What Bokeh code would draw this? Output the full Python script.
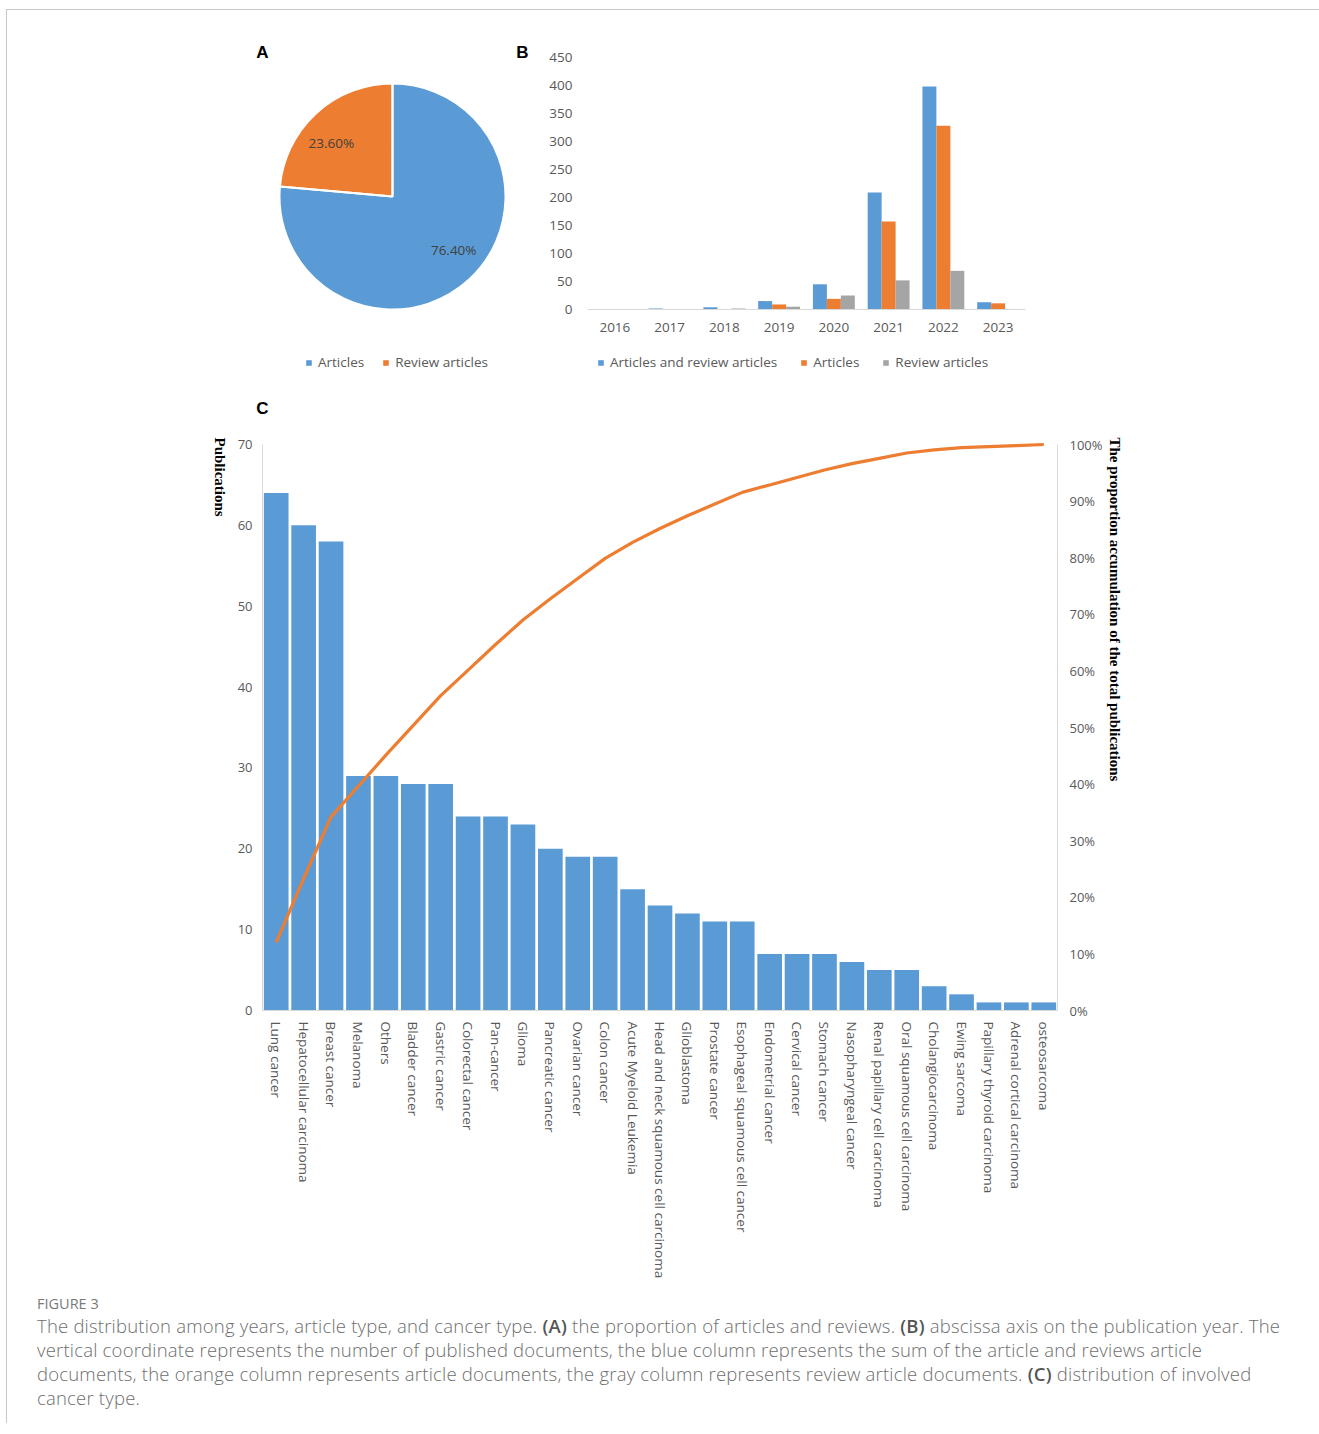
import math
from bokeh.plotting import figure
from bokeh.models import (Range1d, LinearAxis, Label, Legend, LegendItem,
                          FixedTicker, NumeralTickFormatter, Div, ColumnDataSource)
from bokeh.transform import dodge
from bokeh.layouts import column, row
from bokeh.embed import file_html
from bokeh.resources import INLINE

# ---------------- data ----------------
pie_labels = ["Articles", "Review articles"]
pie_shares = [76.40, 23.60]

years = [2016, 2017, 2018, 2019, 2020, 2021, 2022, 2023]
both_counts = [1, 2, 4, 15, 45, 209, 398, 13]
article_counts = [0, 0, 1, 9, 19, 157, 328, 11]
review_counts = [1, 1, 2, 5, 25, 52, 69, 1]
b_ticks = [0, 50, 100, 150, 200, 250, 300, 350, 400, 450]

cancers = ["Lung cancer", "Hepatocellular carcinoma", "Breast cancer", "Melanoma", "Others",
           "Bladder cancer", "Gastric cancer", "Colorectal cancer", "Pan-cancer", "Glioma",
           "Pancreatic cancer", "Ovarian cancer", "Colon cancer", "Acute Myeloid Leukemia",
           "Head and neck squamous cell carcinoma", "Glioblastoma", "Prostate cancer",
           "Esophageal squamous cell cancer", "Endometrial cancer", "Cervical cancer",
           "Stomach cancer", "Nasopharyngeal cancer", "Renal papillary cell carcinoma",
           "Oral squamous cell carcinoma", "Cholangiocarcinoma", "Ewing sarcoma",
           "Papillary thyroid carcinoma", "Adrenal cortical carcinoma", "osteosarcoma"]
cancer_counts = [64, 60, 58, 29, 29, 28, 28, 24, 24, 23, 20, 19, 19, 15, 13, 12, 11, 11,
                 7, 7, 7, 6, 5, 5, 3, 2, 1, 1, 1]
c_left_ticks = [0, 10, 20, 30, 40, 50, 60, 70]
c_right_ticks = [0, 0.1, 0.2, 0.3, 0.4, 0.5, 0.6, 0.7, 0.8, 0.9, 1.0]

BLUE = "#5B9BD5"
ORANGE = "#ED7D31"
GRAY = "#A5A5A5"
TXT = "#595959"
AXL = "#D9D9D9"
FONT = "Open Sans"


def style_axis(ax, size):
    ax.major_tick_line_color = None
    ax.minor_tick_line_color = None
    ax.major_tick_out = 0
    ax.major_tick_in = 0
    ax.minor_tick_out = 0
    ax.minor_tick_in = 0
    ax.major_label_text_font = FONT
    ax.major_label_text_font_size = size
    ax.major_label_text_color = TXT


def legend(items, loc, spacing):
    return Legend(items=items, orientation="horizontal", location=loc,
                  glyph_width=7, glyph_height=7, label_standoff=6, spacing=spacing,
                  padding=0, margin=0, border_line_color=None, background_fill_alpha=0,
                  label_text_font=FONT, label_text_font_size="13.5px", label_text_color=TXT,
                  label_height=16)


def panel_label(x, y, t):
    return Label(x=x, y=y, text=t, text_align="center", text_baseline="middle",
                 text_font="Liberation Sans", text_font_style="bold",
                 text_font_size="17px", text_color="black")


# page origin of the content (inside the thin frame line)
OX, OY = 7, 10
ROW_H = 393 - OY

# ---------------- panel A (pie) ----------------
WA = 508 - OX
pA = figure(width=WA, height=ROW_H, x_range=Range1d(0, WA), y_range=Range1d(0, ROW_H),
            output_backend="svg", toolbar_location=None,
            x_axis_location=None, y_axis_location=None,
            min_border_left=0, min_border_right=0, min_border_top=0, min_border_bottom=0)
pA.outline_line_color = None
pA.grid.visible = False

cx, cy, R = 392 - OX, 393 - 196, 113
cum = 0.0
starts, ends, lx, ly, txts = [], [], [], [], []
for s in pie_shares:
    a0 = math.pi / 2 - cum / 100 * 2 * math.pi
    a1 = math.pi / 2 - (cum + s) / 100 * 2 * math.pi
    starts.append(a0)
    ends.append(a1)
    mid = (a0 + a1) / 2 + 0.11
    lx.append(cx + 0.72 * R * math.cos(mid))
    ly.append(cy + 0.72 * R * math.sin(mid))
    txts.append("%.2f%%" % s)
    cum += s
srcA = ColumnDataSource(dict(start=starts, end=ends, color=[BLUE, ORANGE],
                             lx=lx, ly=ly, txt=txts))
wfill = pA.wedge(x=cx, y=cy, radius=R, start_angle="start", end_angle="end", direction="clock",
                 fill_color="color", line_color=None, source=srcA)
pA.wedge(x=cx, y=cy, radius=R, start_angle="start", end_angle="end", direction="clock",
         fill_color=None, line_color="white", line_width=2, source=srcA)
pA.text(x="lx", y="ly", text="txt", source=srcA, text_align="center", text_baseline="middle",
        text_font_size="13.5px", text_color="#404040", text_font={"value": FONT})
pA.add_layout(legend([LegendItem(label=pie_labels[0], renderers=[wfill], index=0),
                      LegendItem(label=pie_labels[1], renderers=[wfill], index=1)],
                     (305 - OX, 393 - 371), 18))
pA.add_layout(panel_label(262 - OX, 393 - 52, "A"))

# ---------------- panel B (grouped bars) ----------------
WB = 1311 - 508
pxB = 438 / 8.0          # px per year
pyB = 252 / 450.0        # px per publication
x0B, y0B = 587, 309      # page position of (2015.5, 0)
pB = figure(width=WB, height=ROW_H,
            x_range=Range1d(2015.5 - (x0B - 508) / pxB, 2015.5 + (1311 - x0B) / pxB),
            y_range=Range1d(-(393 - y0B) / pyB, (y0B - OY) / pyB),
            output_backend="svg", toolbar_location=None,
            min_border_left=0, min_border_right=0, min_border_top=0, min_border_bottom=0)
pB.outline_line_color = None
pB.grid.visible = False
srcB = ColumnDataSource(dict(year=years, both=both_counts, art=article_counts, rev=review_counts))
w = 0.255
r1 = pB.vbar(x=dodge("year", -w), top="both", width=w, source=srcB,
             fill_color=BLUE, line_color=None)
r2 = pB.vbar(x=dodge("year", 0), top="art", width=w, source=srcB,
             fill_color=ORANGE, line_color=None)
r3 = pB.vbar(x=dodge("year", w), top="rev", width=w, source=srcB,
             fill_color=GRAY, line_color=None)
xa = pB.xaxis[0]
ya = pB.yaxis[0]
style_axis(xa, "13.5px")
style_axis(ya, "13.5px")
xa.ticker = FixedTicker(ticks=years)
xa.fixed_location = 0
xa.bounds = (2015.5, 2023.5)
xa.axis_line_color = AXL
xa.major_label_standoff = 13
ya.ticker = FixedTicker(ticks=b_ticks)
ya.fixed_location = 2015.5
ya.axis_line_color = None
ya.major_label_standoff = 15
pB.add_layout(legend([LegendItem(label="Articles and review articles", renderers=[r1]),
                      LegendItem(label="Articles", renderers=[r2]),
                      LegendItem(label="Review articles", renderers=[r3])],
                     (597 - 508, 393 - 371), 23))
pB.add_layout(panel_label(2015.5 + (522 - x0B) / pxB, (y0B - 52) / pyB, "B"))

# ---------------- panel C (pareto) ----------------
WC, HC = 1311 - OX, 1285 - 393
pxC = 795 / 29.0
pyC = 566 / 70.0
x0C, y0C = 262, 1010     # page position of (-0.5, 0)
idx = list(range(len(cancers)))
total = float(sum(cancer_counts))
run = 0
cum_share = []
for v in cancer_counts:
    run += v
    cum_share.append(run / total)
srcC = ColumnDataSource(dict(i=idx, n=cancer_counts, cum=cum_share))
yb, yt = -(1285 - y0C) / pyC, (y0C - 393) / pyC
pC = figure(width=WC, height=HC,
            x_range=Range1d(-0.5 - (x0C - OX) / pxC, -0.5 + (1311 - x0C) / pxC),
            y_range=Range1d(yb, yt),
            output_backend="svg", toolbar_location=None,
            min_border_left=0, min_border_right=0, min_border_top=0, min_border_bottom=0)
pC.outline_line_color = None
pC.grid.visible = False
pC.extra_y_ranges = {"pct": Range1d(yb / 70.0, yt / 70.0)}
pC.vbar(x="i", top="n", width=0.9, source=srcC, fill_color=BLUE, line_color=None)
pC.line(x="i", y="cum", y_range_name="pct", source=srcC, line_color=ORANGE, line_width=3.2)
rax = LinearAxis(y_range_name="pct", ticker=FixedTicker(ticks=c_right_ticks),
                 formatter=NumeralTickFormatter(format="0%"))
pC.add_layout(rax, "right")
cxa = pC.xaxis[0]
cya = pC.yaxis[0]
for ax in (cxa, cya, rax):
    style_axis(ax, "13px")
    ax.axis_line_color = AXL
cxa.major_label_text_font_size = "13.5px"
cya.ticker = FixedTicker(ticks=c_left_ticks)
cya.fixed_location = -0.5
cya.bounds = (0, 70)
cya.major_label_standoff = 10
rax.fixed_location = len(cancers) - 0.5
rax.bounds = (0, 1)
rax.major_label_standoff = 12
cxa.ticker = FixedTicker(ticks=idx)
cxa.major_label_overrides = {i: c for i, c in zip(idx, cancers)}
cxa.fixed_location = 0
cxa.bounds = (-0.5, len(cancers) - 0.5)
cxa.major_label_orientation = "vertical"
cxa.major_label_standoff = 11
pC.add_layout(panel_label(-0.5, (y0C - 408) / pyC, "C"))
pC.add_layout(Label(x=-0.5 + (219 - x0C) / pxC, y=(y0C - 437) / pyC, text="Publications",
                    angle=-math.pi / 2, text_align="left", text_baseline="middle",
                    text_font="Liberation Serif", text_font_style="bold",
                    text_font_size="15px", text_color="black"))
pC.add_layout(Label(x=-0.5 + (1114 - x0C) / pxC, y=(y0C - 437) / pyC,
                    text="The proportion accumulation of the total publications",
                    angle=-math.pi / 2, text_align="left", text_baseline="middle",
                    text_font="Liberation Serif", text_font_style="bold",
                    text_font_size="15px", text_color="black"))

# ---------------- caption ----------------
cap_html = (
    '<div style="font-family:\'Open Sans\',sans-serif;color:#6e6e6e;font-weight:300;'
    'padding-left:25px;white-space:nowrap;letter-spacing:0.2px;">'
    '<div style="font-size:14.5px;line-height:20px;margin-top:4px;color:#7a7a7a;'
    'font-weight:400;letter-spacing:0;">FIGURE 3</div>'
    '<div style="font-size:18.5px;line-height:24px;">'
    'The distribution among years, article type, and cancer type. '
    '<b style="color:#555;font-weight:600">(A)</b> '
    'the proportion of articles and reviews. <b style="color:#555;font-weight:600">(B)</b> '
    'abscissa axis on the publication year. The<br>'
    'vertical coordinate represents the number of published documents, the blue column '
    'represents the sum of the article and reviews article<br>'
    'documents, the orange column represents article documents, the gray column represents '
    'review article documents. <b style="color:#555;font-weight:600">(C)</b> '
    'distribution of involved<br>'
    'cancer type.</div></div>'
)
cap = Div(text=cap_html, width=WC, height=128)

layout = column(row(pA, pB), pC, cap, margin=(OY - 1, 0, 0, OX - 1),
                styles={"border-top": "1px solid #c8c8c8", "border-left": "1px solid #c8c8c8"})
open("out.html", "w").write(file_html(layout, INLINE))
